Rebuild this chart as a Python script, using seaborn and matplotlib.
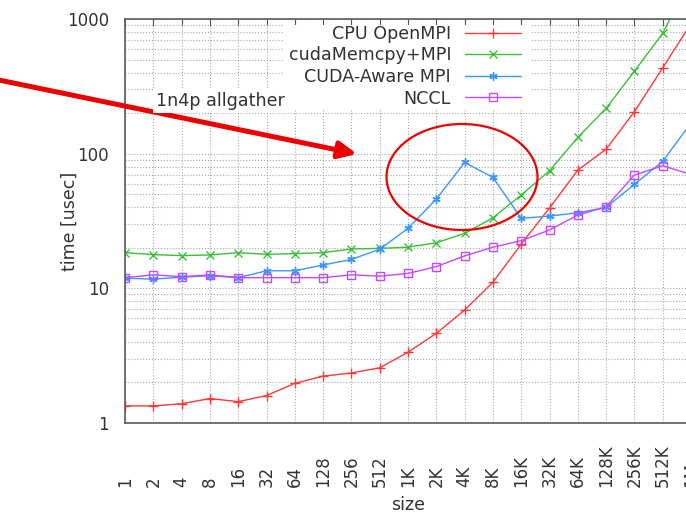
import matplotlib
matplotlib.use("Agg")
import matplotlib.pyplot as plt
import numpy as np
import pandas as pd
import seaborn as sns
from matplotlib.patches import Ellipse, Rectangle

# message sizes (x categories)
sizes = ["1", "2", "4", "8", "16", "32", "64", "128", "256", "512",
         "1K", "2K", "4K", "8K", "16K", "32K", "64K", "128K", "256K", "512K", "1M"]

# time [usec]
cpu_openmpi = [1.34, 1.34, 1.39, 1.52, 1.44, 1.6, 1.97, 2.23, 2.35, 2.57,
               3.35, 4.63, 6.9, 11.1, 21.3, 39.5, 75.5, 108, 205, 434, 925]
cuda_memcpy_mpi = [18.4, 17.8, 17.5, 17.7, 18.4, 17.9, 18.1, 18.4, 19.6, 19.8,
                   20.2, 21.8, 25.6, 33.4, 49.3, 74.7, 132, 217, 410, 782, 2050]
cuda_aware_mpi = [11.9, 11.7, 12.1, 12.4, 12.0, 13.5, 13.5, 14.9, 16.4, 19.5,
                  27.9, 46.0, 86.0, 66.7, 33.1, 34.4, 36.4, 39.9, 59.2, 87.7, 169]
nccl = [12.0, 12.6, 12.2, 12.6, 12.0, 12.0, 12.0, 12.0, 12.6, 12.3,
        12.9, 14.5, 17.4, 20.2, 22.6, 27.1, 35.0, 40.3, 69.4, 81.3, 70]

series_names = ["CPU OpenMPI", "cudaMemcpy+MPI", "CUDA-Aware MPI", "NCCL"]
series_values = [cpu_openmpi, cuda_memcpy_mpi, cuda_aware_mpi, nccl]

rows = []
for name, vals in zip(series_names, series_values):
    for i, v in enumerate(vals):
        rows.append({"pos": i, "size": sizes[i], "time": v, "series": name})
df = pd.DataFrame(rows)

sns.set_theme(style="white")
plt.rcParams["font.family"] = ["DejaVu Sans"]

W, H = 686, 515
fig = plt.figure(figsize=(W / 100, H / 100), dpi=100)
# axes run past the right edge of the picture, as in the cropped reference
ax = fig.add_axes([125 / W, 1 - 423 / H, 566 / W, 404 / H])

styles = {
    "CPU OpenMPI": dict(color="#ff3838", marker="+", ms=7, mfc="none"),
    "cudaMemcpy+MPI": dict(color="#38c038", marker="x", ms=5.5, mfc="none"),
    "CUDA-Aware MPI": dict(color="#3a96ff", marker=(6, 2, 0), ms=6, mfc="none"),
    "NCCL": dict(color="#c448ff", marker="s", ms=6, mfc="none"),
}

for name in series_names:
    st = styles[name]
    sub = df[df["series"] == name]
    sns.lineplot(data=sub, x="pos", y="time", ax=ax, color=st["color"],
                 marker=st["marker"], markersize=st["ms"],
                 markerfacecolor=st["mfc"], markeredgecolor=st["color"],
                 markeredgewidth=1.0, linewidth=1.0, label=name,
                 errorbar=None, sort=False, clip_on=True)

ax.set_yscale("log")
ax.set_ylim(1, 1000)
ax.set_xlim(0, len(sizes) - 1)

text_col = "#333333"
ax.set_xticks(range(len(sizes)))
ax.set_xticklabels(sizes)
ax.set_yticks([1, 10, 100, 1000])
ax.set_yticklabels(["1", "10", "100", "1000"])
ax.set_yticks([m * 10 ** d for d in range(3) for m in range(2, 10)], minor=True)
ax.yaxis.set_minor_formatter(plt.NullFormatter())

ax.tick_params(axis="both", which="both", direction="in", colors="#555555",
               labelcolor=text_col, labelsize=12)
ax.tick_params(axis="x", which="major", top=True, length=5, width=0.8,
               pad=46, labelrotation=90)
ax.tick_params(axis="y", which="major", length=6, width=0.8, pad=11.5)
ax.tick_params(axis="y", which="minor", length=3.5, width=0.8)
for lab in ax.get_xticklabels():
    lab.set_verticalalignment("bottom")

ax.set_axisbelow(True)
ax.grid(True, which="major", axis="both", linestyle=":", color="#a8a8a8", linewidth=0.8)
ax.grid(True, which="minor", axis="y", linestyle=":", color="#a8a8a8", linewidth=0.8)

for side in ["left", "bottom", "top"]:
    ax.spines[side].set_color("#5a5a5a")
    ax.spines[side].set_linewidth(1.2)
ax.spines["right"].set_visible(False)

ax.set_xlabel("size", fontsize=12.5, color=text_col, labelpad=6.5)
ax.set_ylabel("time [usec]", fontsize=12.5, color=text_col)
ax.yaxis.set_label_coords((79 - 125) / 566, 0.5)

# white key area that hides the grid behind the legend
ax.add_patch(Rectangle((283 / W, 1 - 110 / H), 247 / W, 85 / H,
                       transform=fig.transFigure, facecolor="white",
                       edgecolor="none", zorder=1, clip_on=False))

leg = ax.legend(loc="upper right", bbox_to_anchor=(521 / W, 1 - 25 / H),
                bbox_transform=fig.transFigure, borderaxespad=0, borderpad=0,
                frameon=False, markerfirst=False, handlelength=3.2,
                handletextpad=0.8, labelspacing=0.2, fontsize=12.6)
for t in leg.get_texts():
    t.set_color(text_col)

fig.text(156 / W, 1 - 101 / H, "1n4p allgather", fontsize=12.6, color=text_col,
         ha="left", va="center",
         bbox=dict(facecolor="white", edgecolor="none", pad=2))

# red callout: arrow and ellipse around the CUDA-Aware MPI bump
ax.annotate("", xy=(357, H - 154), xycoords="figure pixels",
            xytext=(-6, H - 79), textcoords="figure pixels",
            arrowprops=dict(arrowstyle="-|>,head_length=0.9,head_width=0.42",
                            color="#ee0000", lw=3.6, shrinkA=0, shrinkB=0),
            annotation_clip=False)
fig.add_artist(Ellipse((462 / W, 1 - 177 / H), 151 / W, 106 / H,
                       transform=fig.transFigure, facecolor="none",
                       edgecolor="#ee0000", linewidth=1.6))

fig.savefig("out.png", dpi=100)
